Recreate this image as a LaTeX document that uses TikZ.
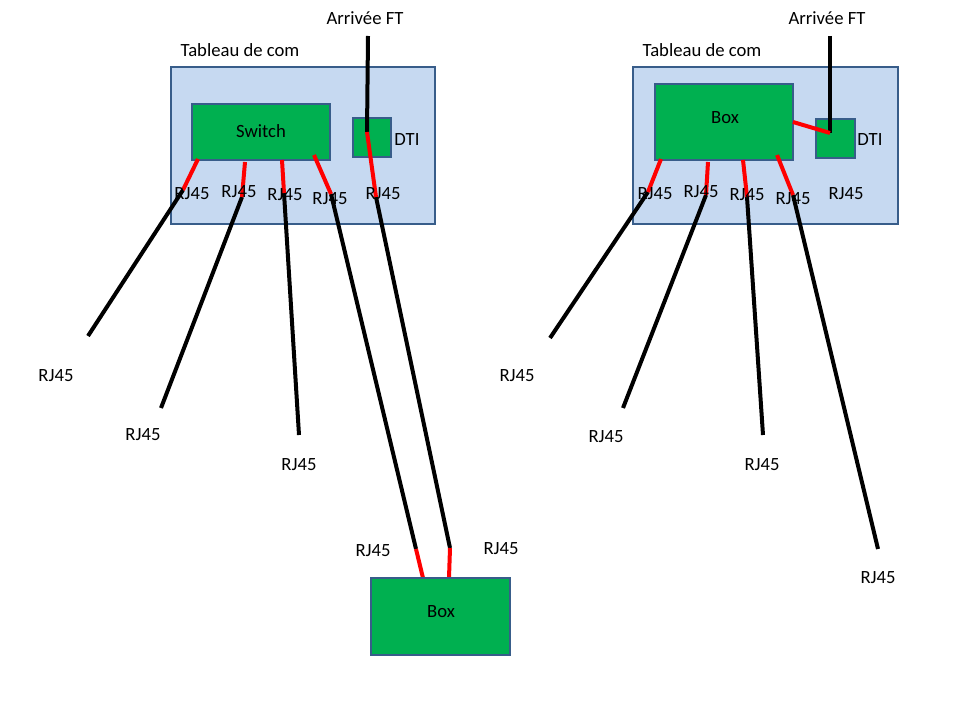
\documentclass[tikz,border=0pt]{standalone}
\usepackage{fontspec}
\setmainfont{Carlito}
\begin{document}
\begin{tikzpicture}[x=0.75pt,y=-0.75pt,
  panel/.style={draw=panelborder,fill=panelfill,line width=2pt},
  greenbox/.style={draw=panelborder,fill=boxgreen,line width=2pt},
  lbl/.style={font=\fontsize{14}{16}\selectfont,inner sep=0pt},
  redw/.style={draw=red,line width=3pt},
  blackw/.style={draw=black,line width=3pt}]
\definecolor{panelfill}{HTML}{C6D9F1}
\definecolor{panelborder}{HTML}{385D8A}
\definecolor{boxgreen}{HTML}{00B050}
\useasboundingbox (0,0) rectangle (960,720);
\fill[white] (0,0) rectangle (960,720);

% ---------------- Left panel ----------------
\draw[panel] (171,67) rectangle (435,224);
\node[lbl] (ltab) at (240,50) {Tableau de com};
\draw[greenbox] (192,104) rectangle (330,160);
\node[lbl] (lsw) at (261,131) {Switch};
\draw[greenbox] (353,118) rectangle (391,157);
\node[lbl] (ldti) at (407,140) {DTI};
\node[lbl] (lft) at (365,18) {Arrivée FT};

\coordinate (lfttop) at (368,36);
\coordinate (ldtic) at (367,132);
\draw[blackw] (lfttop) -- (ldtic);

% switch ports
\coordinate (ls1) at (198,159); \coordinate (lj1) at (183,190); \coordinate (le1) at (88,336);
\coordinate (ls2) at (245,162); \coordinate (lj2) at (242,197); \coordinate (le2) at (161,408);
\coordinate (ls3) at (282,160); \coordinate (lj3) at (284,193); \coordinate (le3) at (299,435);
\coordinate (ls4) at (314,155); \coordinate (lj4) at (331,194);
\coordinate (lj5) at (376,197);
\coordinate (bj1) at (416,549); \coordinate (bs1) at (423,578);
\coordinate (bj2) at (450,548); \coordinate (bs2) at (449,578);

\draw[blackw] (lj1) -- (le1);
\draw[blackw] (lj2) -- (le2);
\draw[blackw] (lj3) -- (le3);
\draw[blackw] (lj4) -- (bj1);
\draw[blackw] (lj5) -- (bj2);
\draw[redw] (ls1) -- (lj1);
\draw[redw] (ls2) -- (lj2);
\draw[redw] (ls3) -- (lj3);
\draw[redw] (ls4) -- (lj4);
\draw[redw] (ldtic) -- (lj5);
\draw[redw] (bj1) -- (bs1);
\draw[redw] (bj2) -- (bs2);

\node[lbl] (lr1) at (192,194) {RJ45};
\node[lbl] (lr2) at (239,192) {RJ45};
\node[lbl] (lr3) at (285,195) {RJ45};
\node[lbl] (lr4) at (330,199) {RJ45};
\node[lbl] (lr5) at (383,194) {RJ45};
\node[lbl] (lo1) at (56,376) {RJ45};
\node[lbl] (lo2) at (143,435) {RJ45};
\node[lbl] (lo3) at (299,465) {RJ45};
\node[lbl] (lo4) at (373,551) {RJ45};
\node[lbl] (lo5) at (501,549) {RJ45};

\draw[greenbox] (371,578) rectangle (510,655);
\node[lbl] (lbox) at (441,612) {Box};

% ---------------- Right panel ----------------
\draw[panel] (633,67) rectangle (898,224);
\node[lbl] (rtab) at (702,50) {Tableau de com};
\draw[greenbox] (655,84) rectangle (793,160);
\node[lbl] (rbox) at (725,118) {Box};
\draw[greenbox] (816,119) rectangle (855,158);
\node[lbl] (rdti) at (870,140) {DTI};
\node[lbl] (rft) at (827,18) {Arrivée FT};

\coordinate (rfttop) at (830,36);
\coordinate (rdtic) at (830,133);
\coordinate (rboxr) at (793,122);
\draw[blackw] (rfttop) -- (rdtic);
\draw[redw] (rboxr) -- (rdtic);

\coordinate (rs1) at (661,159); \coordinate (rj1) at (648,192); \coordinate (re1) at (550,338);
\coordinate (rs2) at (708,162); \coordinate (rj2) at (706,195); \coordinate (re2) at (623,408);
\coordinate (rs3) at (743,160); \coordinate (rj3) at (747,197); \coordinate (re3) at (763,435);
\coordinate (rs4) at (777,155); \coordinate (rj4) at (793,195); \coordinate (re4) at (878,549);

\draw[blackw] (rj1) -- (re1);
\draw[blackw] (rj2) -- (re2);
\draw[blackw] (rj3) -- (re3);
\draw[blackw] (rj4) -- (re4);
\draw[redw] (rs1) -- (rj1);
\draw[redw] (rs2) -- (rj2);
\draw[redw] (rs3) -- (rj3);
\draw[redw] (rs4) -- (rj4);

\node[lbl] (rr1) at (655,194) {RJ45};
\node[lbl] (rr2) at (701,192) {RJ45};
\node[lbl] (rr3) at (747,195) {RJ45};
\node[lbl] (rr4) at (793,199) {RJ45};
\node[lbl] (rr5) at (846,194) {RJ45};
\node[lbl] (ro1) at (517,376) {RJ45};
\node[lbl] (ro2) at (606,437) {RJ45};
\node[lbl] (ro3) at (762,465) {RJ45};
\node[lbl] (ro4) at (878,578) {RJ45};
\end{tikzpicture}
\end{document}
